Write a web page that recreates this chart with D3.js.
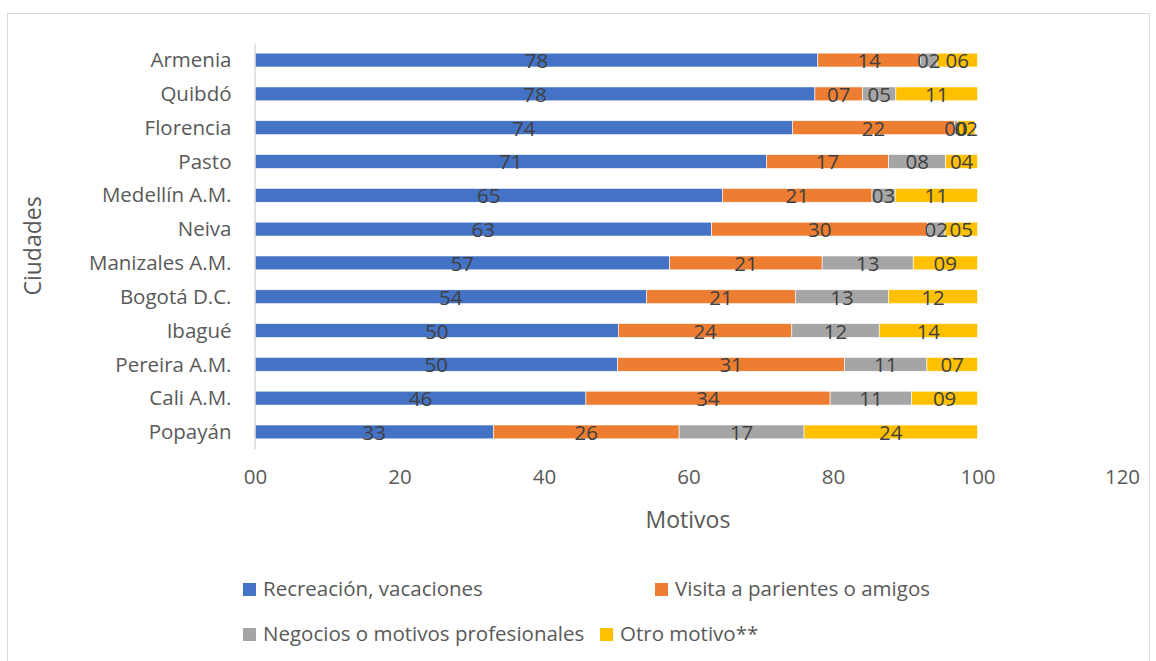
<!DOCTYPE html>
<html>
<head>
<meta charset="utf-8">
<script src="https://cdn.jsdelivr.net/npm/d3@7"></script>
<style>
  html, body { margin: 0; padding: 0; background: #fff; }
  svg { display: block; font-family: "Open Sans", sans-serif; }
</style>
</head>
<body>
<svg id="chart" width="1156" height="661"></svg>
<script>
const cities = ["Armenia", "Quibdó", "Florencia", "Pasto", "Medellín A.M.", "Neiva",
  "Manizales A.M.", "Bogotá D.C.", "Ibagué", "Pereira A.M.", "Cali A.M.", "Popayán"];
const seriesNames = ["Recreación, vacaciones", "Visita a parientes o amigos",
  "Negocios o motivos profesionales", "Otro motivo**"];
const recreacion = [77.9, 77.5, 74.4, 70.8, 64.7, 63.2, 57.4, 54.2, 50.3, 50.2, 45.8, 33.0];
const visita     = [14.2,  6.6, 22.4, 16.9, 20.7, 29.9, 21.1, 20.6, 24.0, 31.4, 33.8, 25.7];
const negocios   = [ 2.3,  4.6,  0.45, 7.9,  3.2,  2.4, 12.6, 12.9, 12.1, 11.4, 11.3, 17.3];
const otro       = [ 5.6, 11.3,  2.4,  4.4, 11.4,  4.5,  8.9, 12.3, 13.6,  7.0,  9.1, 24.0];
const xTicks = [0, 20, 40, 60, 80, 100, 120];
const colors = ["#4472C4", "#ED7D31", "#A5A5A5", "#FFC000"];

const svg = d3.select("#chart");
const textColor = "#595959";
const labelColor = "#404040";
const fontFam = "'Open Sans', sans-serif";
const fs = 20.5;

// outer border
svg.append("rect").attr("x", 7.5).attr("y", 13.5).attr("width", 1142).attr("height", 680)
  .attr("fill", "none").attr("stroke", "#d9d9d9").attr("stroke-width", 1);

const x = d3.scaleLinear().domain([0, 120]).range([255, 1122]);
const y = d3.scaleBand().domain(cities).range([43, 449]).paddingInner(0.59).paddingOuter(0.3);

const rows = cities.map((c, i) => ({ city: c, v: [recreacion[i], visita[i], negocios[i], otro[i]] }));
const keys = [0, 1, 2, 3];
const stack = d3.stack().keys(keys).value((d, k) => d.v[k]);
const stacked = stack(rows);

const g = svg.append("g");
stacked.forEach((layer, li) => {
  g.selectAll(null).data(layer).enter().append("rect")
    .attr("x", d => x(d[0]))
    .attr("y", d => y(d.data.city))
    .attr("width", d => Math.max(0, x(d[1]) - x(d[0])))
    .attr("height", y.bandwidth())
    .attr("fill", colors[li])
    .attr("stroke", "#fff").attr("stroke-width", 0.6);
});
// data labels
stacked.forEach((layer, li) => {
  g.selectAll(null).data(layer).enter().append("text")
    .attr("x", d => (x(d[0]) + x(d[1])) / 2)
    .attr("y", d => y(d.data.city) + y.bandwidth() / 2 + 8)
    .attr("text-anchor", "middle")
    .attr("font-size", fs)
    .attr("fill", labelColor)
    .text(d => d3.format("02d")(Math.round(d[1] - d[0])));
});

// y axis
const yAxis = d3.axisLeft(y).tickSize(0).tickPadding(23);
const yg = svg.append("g").attr("transform", "translate(254.5,0)").call(yAxis);
yg.select(".domain").attr("stroke", "#d9d9d9").attr("stroke-width", 1.5);
yg.selectAll("text").attr("font-size", fs).attr("fill", textColor)
  .attr("font-family", fontFam).attr("dy", "0.35em");

// x axis (labels only)
const xAxis = d3.axisBottom(x).tickValues(xTicks).tickSize(0).tickFormat(d3.format("02d"));
const xg = svg.append("g").attr("transform", "translate(0,466)").call(xAxis);
xg.select(".domain").remove();
xg.selectAll("text").attr("font-size", fs).attr("fill", textColor)
  .attr("font-family", fontFam);

// axis titles
svg.append("text").attr("x", 688).attr("y", 528).attr("text-anchor", "middle")
  .attr("font-size", 23).attr("fill", textColor).text("Motivos");
svg.append("text").attr("transform", "translate(41,246) rotate(-90)")
  .attr("text-anchor", "middle").attr("font-size", 23).attr("fill", textColor).text("Ciudades");

// legend
const legendPos = [[243, 589], [655, 589], [243, 634], [600, 634]];
seriesNames.forEach((name, i) => {
  const [lx, ly] = legendPos[i];
  svg.append("rect").attr("x", lx).attr("y", ly - 6).attr("width", 13).attr("height", 13)
    .attr("fill", colors[i]);
  svg.append("text").attr("x", lx + 20).attr("y", ly + 7).attr("font-size", fs)
    .attr("fill", textColor).text(name);
});
</script>
</body>
</html>
